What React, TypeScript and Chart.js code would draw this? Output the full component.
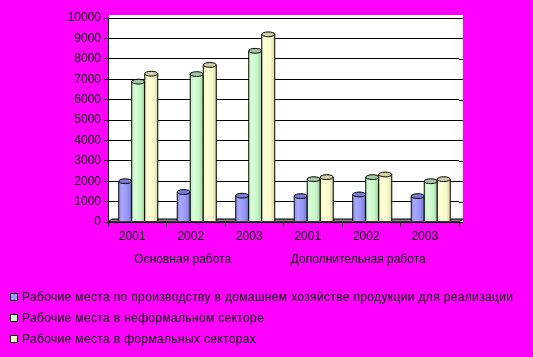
import React, { useEffect, useRef } from 'react';
import { Chart, registerables } from 'chart.js';

Chart.register(...registerables);

const categories = ['2001', '2002', '2003', '2001', '2002', '2003'];
const groupLabels = ['Основная работа', 'Дополнительная работа'];
const seriesNames = [
  'Рабочие места по производству в домашнем хозяйстве продукции для реализации',
  'Рабочие места в неформальном секторе',
  'Рабочие места в формальных секторах',
];
const homeProduction = [2000, 1470, 1290, 1270, 1350, 1270];
const informalSector = [6880, 7250, 8390, 2100, 2200, 2000];
const formalSector = [7270, 7700, 9200, 2200, 2330, 2100];
const yMin = 0;
const yMax = 10000;
const yStep = 1000;

const seriesColors = ['#9999FF', '#CCFFCC', '#FFFFCC'];
const shades = [
  { light: '#a8a8ff', mid: '#9494f4', dark: '#6e6ec8', cap: '#7c7cd4' },
  { light: '#d8ffd8', mid: '#c4f4c4', dark: '#9ccc9c', cap: '#a4c8a4' },
  { light: '#ffffd8', mid: '#f8f8c8', dark: '#d4d4a8', cap: '#d0d0a8' },
];

const FONT = { family: 'Liberation Sans, Arial, sans-serif', size: 12 };
const DX = 4;
const DY = 3;

const decor = {
  id: 'decor',
  beforeDraw(chart: any) {
    const { ctx, chartArea: a, width, height } = chart;
    ctx.save();
    ctx.fillStyle = '#FF00FF';
    ctx.fillRect(0, 0, width, height);
    ctx.fillStyle = '#FFFFFF';
    ctx.fillRect(a.left + 1, a.top - DY, a.right - a.left + DX - 1, a.bottom - a.top + DY);
    ctx.restore();
  },
  beforeDatasetsDraw(chart: any) {
    const { ctx, chartArea: a } = chart;
    ctx.save();
    const y = chart.scales.y;
    ctx.strokeStyle = '#000';
    ctx.lineWidth = 1;
    y.ticks.forEach((t: any) => {
      const py = Math.round(y.getPixelForValue(t.value)) + 0.5;
      ctx.beginPath();
      ctx.moveTo(a.right, py);
      ctx.lineTo(a.right + DX, py);
      ctx.stroke();
    });
    ctx.fillStyle = '#808080';
    ctx.beginPath();
    ctx.moveTo(a.left, a.bottom);
    ctx.lineTo(a.right, a.bottom);
    ctx.lineTo(a.right + DX, a.bottom - DY);
    ctx.lineTo(a.left + DX, a.bottom - DY);
    ctx.closePath();
    ctx.fill();
    ctx.strokeStyle = '#000';
    ctx.stroke();
    ctx.restore();
  },
  afterDatasetsDraw(chart: any) {
    const ctx = chart.ctx;
    chart.data.datasets.forEach((_ds: any, di: number) => {
      const meta = chart.getDatasetMeta(di);
      const sh = shades[di];
      meta.data.forEach((el: any) => {
        const { x, y, base, width } = el.getProps(['x', 'y', 'base', 'width'], true);
        const cx = x + 1;
        const l = cx - width / 2;
        const r = cx + width / 2;
        const rx = width / 2;
        const ry = 2.4;
        const top = y;
        const bottom = base - 0.5;
        ctx.save();
        const g = ctx.createLinearGradient(l, 0, r, 0);
        g.addColorStop(0, sh.mid);
        g.addColorStop(0.3, sh.light);
        g.addColorStop(0.7, sh.mid);
        g.addColorStop(1, sh.dark);
        ctx.fillStyle = g;
        ctx.beginPath();
        ctx.moveTo(l, top);
        ctx.lineTo(l, bottom);
        ctx.lineTo(r, bottom);
        ctx.lineTo(r, top);
        ctx.closePath();
        ctx.fill();
        ctx.strokeStyle = '#000';
        ctx.lineWidth = 1;
        ctx.beginPath();
        ctx.moveTo(l, top);
        ctx.lineTo(l, bottom);
        ctx.moveTo(r, top);
        ctx.lineTo(r, bottom);
        ctx.stroke();
        ctx.fillStyle = sh.cap;
        ctx.beginPath();
        ctx.ellipse(cx, top, rx, ry, 0, 0, Math.PI * 2);
        ctx.fill();
        ctx.stroke();
        ctx.restore();
      });
    });
  },
};

export default function App() {
  const ref = useRef<HTMLCanvasElement | null>(null);

  useEffect(() => {
    document.body.style.margin = '0';
    document.body.style.background = '#FF00FF';
    const canvas = ref.current;
    if (!canvas) return;
    const chart = new Chart(canvas, {
      type: 'bar',
      data: {
        labels: categories,
        datasets: [
          { label: seriesNames[0], data: homeProduction, backgroundColor: 'rgba(0,0,0,0)', borderWidth: 0 },
          { label: seriesNames[1], data: informalSector, backgroundColor: 'rgba(0,0,0,0)', borderWidth: 0 },
          { label: seriesNames[2], data: formalSector, backgroundColor: 'rgba(0,0,0,0)', borderWidth: 0 },
        ],
      },
      options: {
        responsive: false,
        animation: false,
        events: [],
        layout: { padding: { left: 0, right: 74, top: 18, bottom: 89 } },
        datasets: { bar: { categoryPercentage: 0.667, barPercentage: 1 } },
        plugins: { legend: { display: false }, tooltip: { enabled: false } },
        scales: {
          x: {
            position: 'bottom',
            grid: { offset: true, drawOnChartArea: false, color: '#000', tickLength: 5, lineWidth: 1 },
            border: { color: '#000', width: 1 },
            ticks: { color: '#000', font: FONT, padding: 2, labelOffset: -5, autoSkip: false, maxRotation: 0 },
            afterFit: (s: any) => { s.height = 22; },
          },
          x2: {
            type: 'category',
            labels: groupLabels,
            position: 'bottom',
            grid: { display: false, drawTicks: false },
            border: { display: false },
            ticks: { color: '#000', font: FONT, padding: 8, labelOffset: -13, autoSkip: false, maxRotation: 0 },
            afterFit: (s: any) => { s.height = 24; },
          },
          y: {
            min: yMin,
            max: yMax,
            ticks: { stepSize: yStep, color: '#000', font: FONT, padding: 3, callback: (v: any) => String(v) },
            grid: { color: '#000', lineWidth: 1, tickLength: 4 },
            border: { color: '#000', width: 1 },
            afterFit: (s: any) => { s.width = 108; },
          },
        },
      },
      plugins: [decor],
    } as any);
    return () => chart.destroy();
  }, []);

  return (
    <div style={{ position: 'relative', width: 533, height: 357, background: '#FF00FF', overflow: 'hidden' }}>
      <canvas ref={ref} width={533} height={357} style={{ display: 'block' }} />
      <div style={{ position: 'absolute', left: 10, top: 286, fontFamily: 'Liberation Sans, Arial, sans-serif', fontSize: 12, color: '#000', letterSpacing: '0.35px' }}>
        {seriesNames.map((name, i) => (
          <div key={i} style={{ display: 'flex', alignItems: 'center', height: 21, whiteSpace: 'nowrap' }}>
            <span style={{ display: 'inline-block', width: 6, height: 6, border: '1px solid #000', background: seriesColors[i], marginRight: 4 }} />
            <span>{name}</span>
          </div>
        ))}
      </div>
    </div>
  );
}
